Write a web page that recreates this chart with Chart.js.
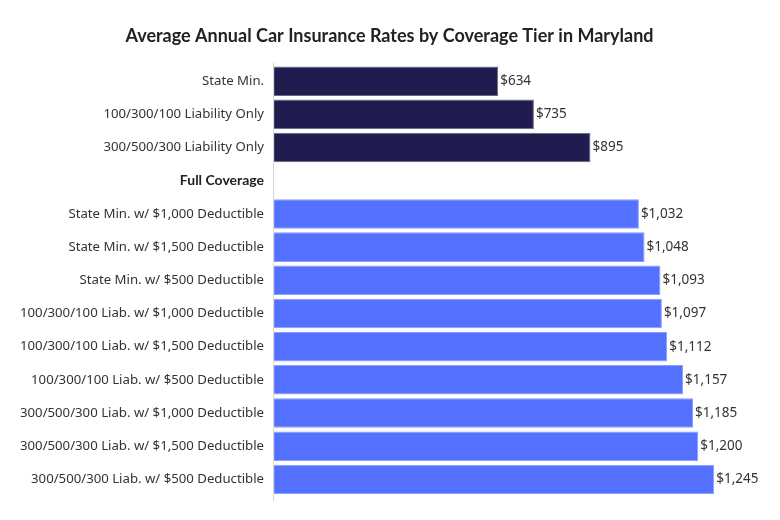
<!DOCTYPE html>
<html>
<head>
<meta charset="utf-8">
<script src="https://cdn.jsdelivr.net/npm/chart.js@4"></script>
<style>
html,body{margin:0;padding:0;background:#fff;}
#wrap{width:780px;height:520px;position:relative;}
</style>
</head>
<body>
<div id="wrap"><canvas id="c"></canvas></div>
<script>
const categories = [
  "State Min.",
  "100/300/100 Liability Only",
  "300/500/300 Liability Only",
  "Full Coverage",
  "State Min. w/ $1,000 Deductible",
  "State Min. w/ $1,500 Deductible",
  "State Min. w/ $500 Deductible",
  "100/300/100 Liab. w/ $1,000 Deductible",
  "100/300/100 Liab. w/ $1,500 Deductible",
  "100/300/100 Liab. w/ $500 Deductible",
  "300/500/300 Liab. w/ $1,000 Deductible",
  "300/500/300 Liab. w/ $1,500 Deductible",
  "300/500/300 Liab. w/ $500 Deductible"
];
const rates = [634, 735, 895, null, 1032, 1048, 1093, 1097, 1112, 1157, 1185, 1200, 1245];
const headerIndex = 3;
const liabilityCount = 3;

const colors = rates.map((v, i) => i < liabilityCount ? '#201c50' : '#5470fe');
const borders = rates.map((v, i) => i < liabilityCount ? '#6a6880' : '#8a9cff');

const valueLabels = {
  id: 'valueLabels',
  beforeDatasetsDraw(chart) {
    const ctx = chart.ctx;
    const a = chart.chartArea;
    ctx.save();
    ctx.strokeStyle = '#d4d4d4';
    ctx.lineWidth = 1;
    ctx.beginPath();
    ctx.moveTo(a.left - 0.5, a.top - 2);
    ctx.lineTo(a.left - 0.5, a.bottom + 5);
    ctx.stroke();
    ctx.restore();
  },
  afterDatasetsDraw(chart) {
    const ctx = chart.ctx;
    const meta = chart.getDatasetMeta(0);
    ctx.save();
    ctx.font = '13.5px "Noto Sans", sans-serif';
    ctx.fillStyle = '#333';
    ctx.textBaseline = 'middle';
    ctx.textAlign = 'left';
    meta.data.forEach((bar, i) => {
      const v = rates[i];
      if (v == null) return;
      ctx.fillText('$' + v.toLocaleString('en-US'), bar.x + 2, bar.y);
    });
    ctx.restore();
  }
};

new Chart(document.getElementById('c'), {
  type: 'bar',
  data: {
    labels: categories,
    datasets: [{
      data: rates,
      backgroundColor: colors,
      borderColor: borders,
      borderWidth: 1,
      borderSkipped: 'left',
      barPercentage: 0.89,
      categoryPercentage: 1.0
    }]
  },
  options: {
    indexAxis: 'y',
    responsive: true,
    maintainAspectRatio: false,
    animation: false,
    layout: { padding: { top: 0, right: 11, bottom: 24, left: 10 } },
    plugins: {
      legend: { display: false },
      tooltip: { enabled: false },
      title: {
        display: true,
        text: 'Average Annual Car Insurance Rates by Coverage Tier in Maryland',
        color: '#222',
        font: { family: 'Lato, sans-serif', size: 18, weight: 'bold' },
        padding: { top: 25, bottom: 18 }
      }
    },
    scales: {
      x: {
        display: false,
        min: 0,
        max: 1400
      },
      y: {
        grid: { display: false, drawTicks: false },
        border: { display: false },
        ticks: {
          padding: 10,
          color: (ctx) => ctx.index === headerIndex ? '#222' : '#333',
          font: (ctx) => ctx.index === headerIndex
            ? { family: 'Lato, sans-serif', size: 14, weight: 'bold' }
            : { family: '"Noto Sans", sans-serif', size: 13.2 }
        }
      }
    }
  },
  plugins: [valueLabels]
});
</script>
</body>
</html>
